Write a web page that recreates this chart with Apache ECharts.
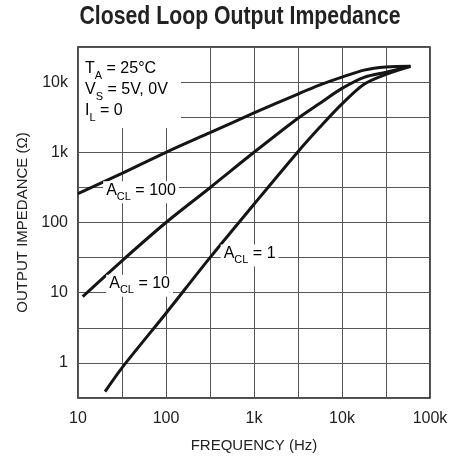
<!DOCTYPE html>
<html>
<head>
<meta charset="UTF-8">
<title>Closed Loop Output Impedance</title>
<script src="https://cdn.jsdelivr.net/npm/echarts@6/dist/echarts.min.js"></script>
<style>
  html, body { margin: 0; padding: 0; background: #fff; }
  #chart { width: 453px; height: 458px; }
</style>
</head>
<body>
<div id="chart"></div>
<script>
// frequency (Hz) / impedance (ohm)
var freqA100 = [10, 31.6, 100, 316, 1000, 3160, 5620, 10000, 17800, 31600, 60000];
var zA100 = [257, 501, 1000, 1905, 3630, 6760, 9120, 11750, 14800, 16400, 16800];

var freqA10 = [11.3, 31.6, 100, 316, 1000, 3160, 5620, 10000, 17800, 31600, 60000];
var zA10 = [8.8, 28.5, 100, 313, 1000, 3060, 5010, 8130, 11700, 13800, 16800];

var freqA1 = [20.3, 31.6, 100, 316, 1000, 3160, 5620, 10000, 17800, 31600, 60000];
var zA1 = [0.39, 0.85, 5.1, 31.6, 182, 1020, 2290, 4900, 9330, 12900, 16800];

var xTickLabels = ['10', '100', '1k', '10k', '100k'];
var yTickLabels = ['1', '10', '100', '1k', '10k'];

// plot is log-log, so both axes work in decades
function toLog(fs, zs) {
  var out = [];
  for (var i = 0; i < fs.length; i++) out.push([Math.log10(fs[i]), Math.log10(zs[i])]);
  return out;
}

var font = '"Liberation Sans", Arial, sans-serif';
var gridColor = '#555';

var chart = echarts.init(document.getElementById('chart'), null, { renderer: 'canvas' });

function curve(name, fs, zs) {
  return {
    name: name,
    type: 'line',
    data: toLog(fs, zs),
    showSymbol: false,
    smooth: 0.3,
    lineStyle: { color: '#151515', width: 3 },
    z: 5
  };
}

var option = {
  animation: false,
  backgroundColor: '#fff',
  grid: {
    left: 78, right: 23, top: 47, bottom: 59,
    show: true, borderColor: '#111', borderWidth: 1.5
  },
  xAxis: {
    type: 'value',
    min: 1, max: 5, interval: 0.5,
    name: 'FREQUENCY (Hz)',
    nameLocation: 'middle',
    nameGap: 40,
    nameTextStyle: { fontFamily: font, fontSize: 15, color: '#222' },
    axisLine: { show: false },
    axisTick: { show: false },
    axisLabel: {
      margin: 13,
      fontFamily: font, fontSize: 16, color: '#222',
      formatter: function (v) {
        if (Math.abs(v - Math.round(v)) > 1e-6) return '';
        return xTickLabels[Math.round(v) - 1];
      }
    },
    splitLine: { show: true, lineStyle: { color: gridColor, width: 1 } }
  },
  yAxis: {
    type: 'value',
    min: -0.5, max: 4.5, interval: 0.5,
    name: 'OUTPUT IMPEDANCE (\u03A9)',
    nameLocation: 'middle',
    nameGap: 45,
    nameTextStyle: { fontFamily: font, fontSize: 15, color: '#222' },
    axisLine: { show: false },
    axisTick: { show: false },
    axisLabel: {
      margin: 10,
      fontFamily: font, fontSize: 16, color: '#222',
      formatter: function (v) {
        if (Math.abs(v - Math.round(v)) > 1e-6) return '';
        return yTickLabels[Math.round(v)] || '';
      }
    },
    splitLine: { show: true, lineStyle: { color: gridColor, width: 1 } }
  },
  series: [
    curve('ACL = 100', freqA100, zA100),
    curve('ACL = 10', freqA10, zA10),
    curve('ACL = 1', freqA1, zA1)
  ]
};

chart.setOption(option);

// annotation text, anchored in data (decade) coordinates
var richStyle = {
  m: { fontFamily: font, fontSize: 16, color: '#222', verticalAlign: 'bottom', padding: [0, 0, 4, 0] },
  s: { fontFamily: font, fontSize: 11, color: '#222', verticalAlign: 'bottom' }
};

function label(lx, ly, txt, align) {
  var p = chart.convertToPixel({ gridIndex: 0 }, [lx, ly]);
  return {
    type: 'text',
    x: p[0], y: p[1],
    z: 10,
    style: {
      text: txt,
      rich: richStyle,
      align: align || 'center',
      verticalAlign: 'middle',
      backgroundColor: '#fff',
      padding: [1, 3, 1, 3]
    }
  };
}

var cond = chart.convertToPixel({ gridIndex: 0 }, [1.0, 4.5]);

chart.setOption({
  graphic: [
    {
      // condensed bold title
      type: 'text',
      x: 240, y: 5,
      scaleX: 0.85,
      style: {
        text: 'Closed Loop Output Impedance',
        fontFamily: font,
        fontWeight: 'bold',
        fontSize: 25,
        fill: '#222',
        align: 'center',
        verticalAlign: 'top'
      }
    },
    {
      type: 'rect',
      shape: { x: cond[0] + 1, y: cond[1] + 1, width: 102, height: 80 },
      style: { fill: '#fff' },
      z: 9
    },
    {
      type: 'text',
      x: cond[0] + 7, y: cond[1] + 13,
      z: 10,
      style: {
        text: '{m|T}{s|A}{m| = 25\u00B0C}\n{m|V}{s|S}{m| = 5V, 0V}\n{m|I}{s|L}{m| = 0}',
        rich: richStyle,
        align: 'left',
        verticalAlign: 'top',
        lineHeight: 21
      }
    },
    label(1.716, 2.43, '{m|A}{s|CL}{m| = 100}'),
    label(1.70, 1.10, '{m|A}{s|CL}{m| = 10}'),
    label(2.95, 1.53, '{m|A}{s|CL}{m| = 1}')
  ]
});
</script>
</body>
</html>
